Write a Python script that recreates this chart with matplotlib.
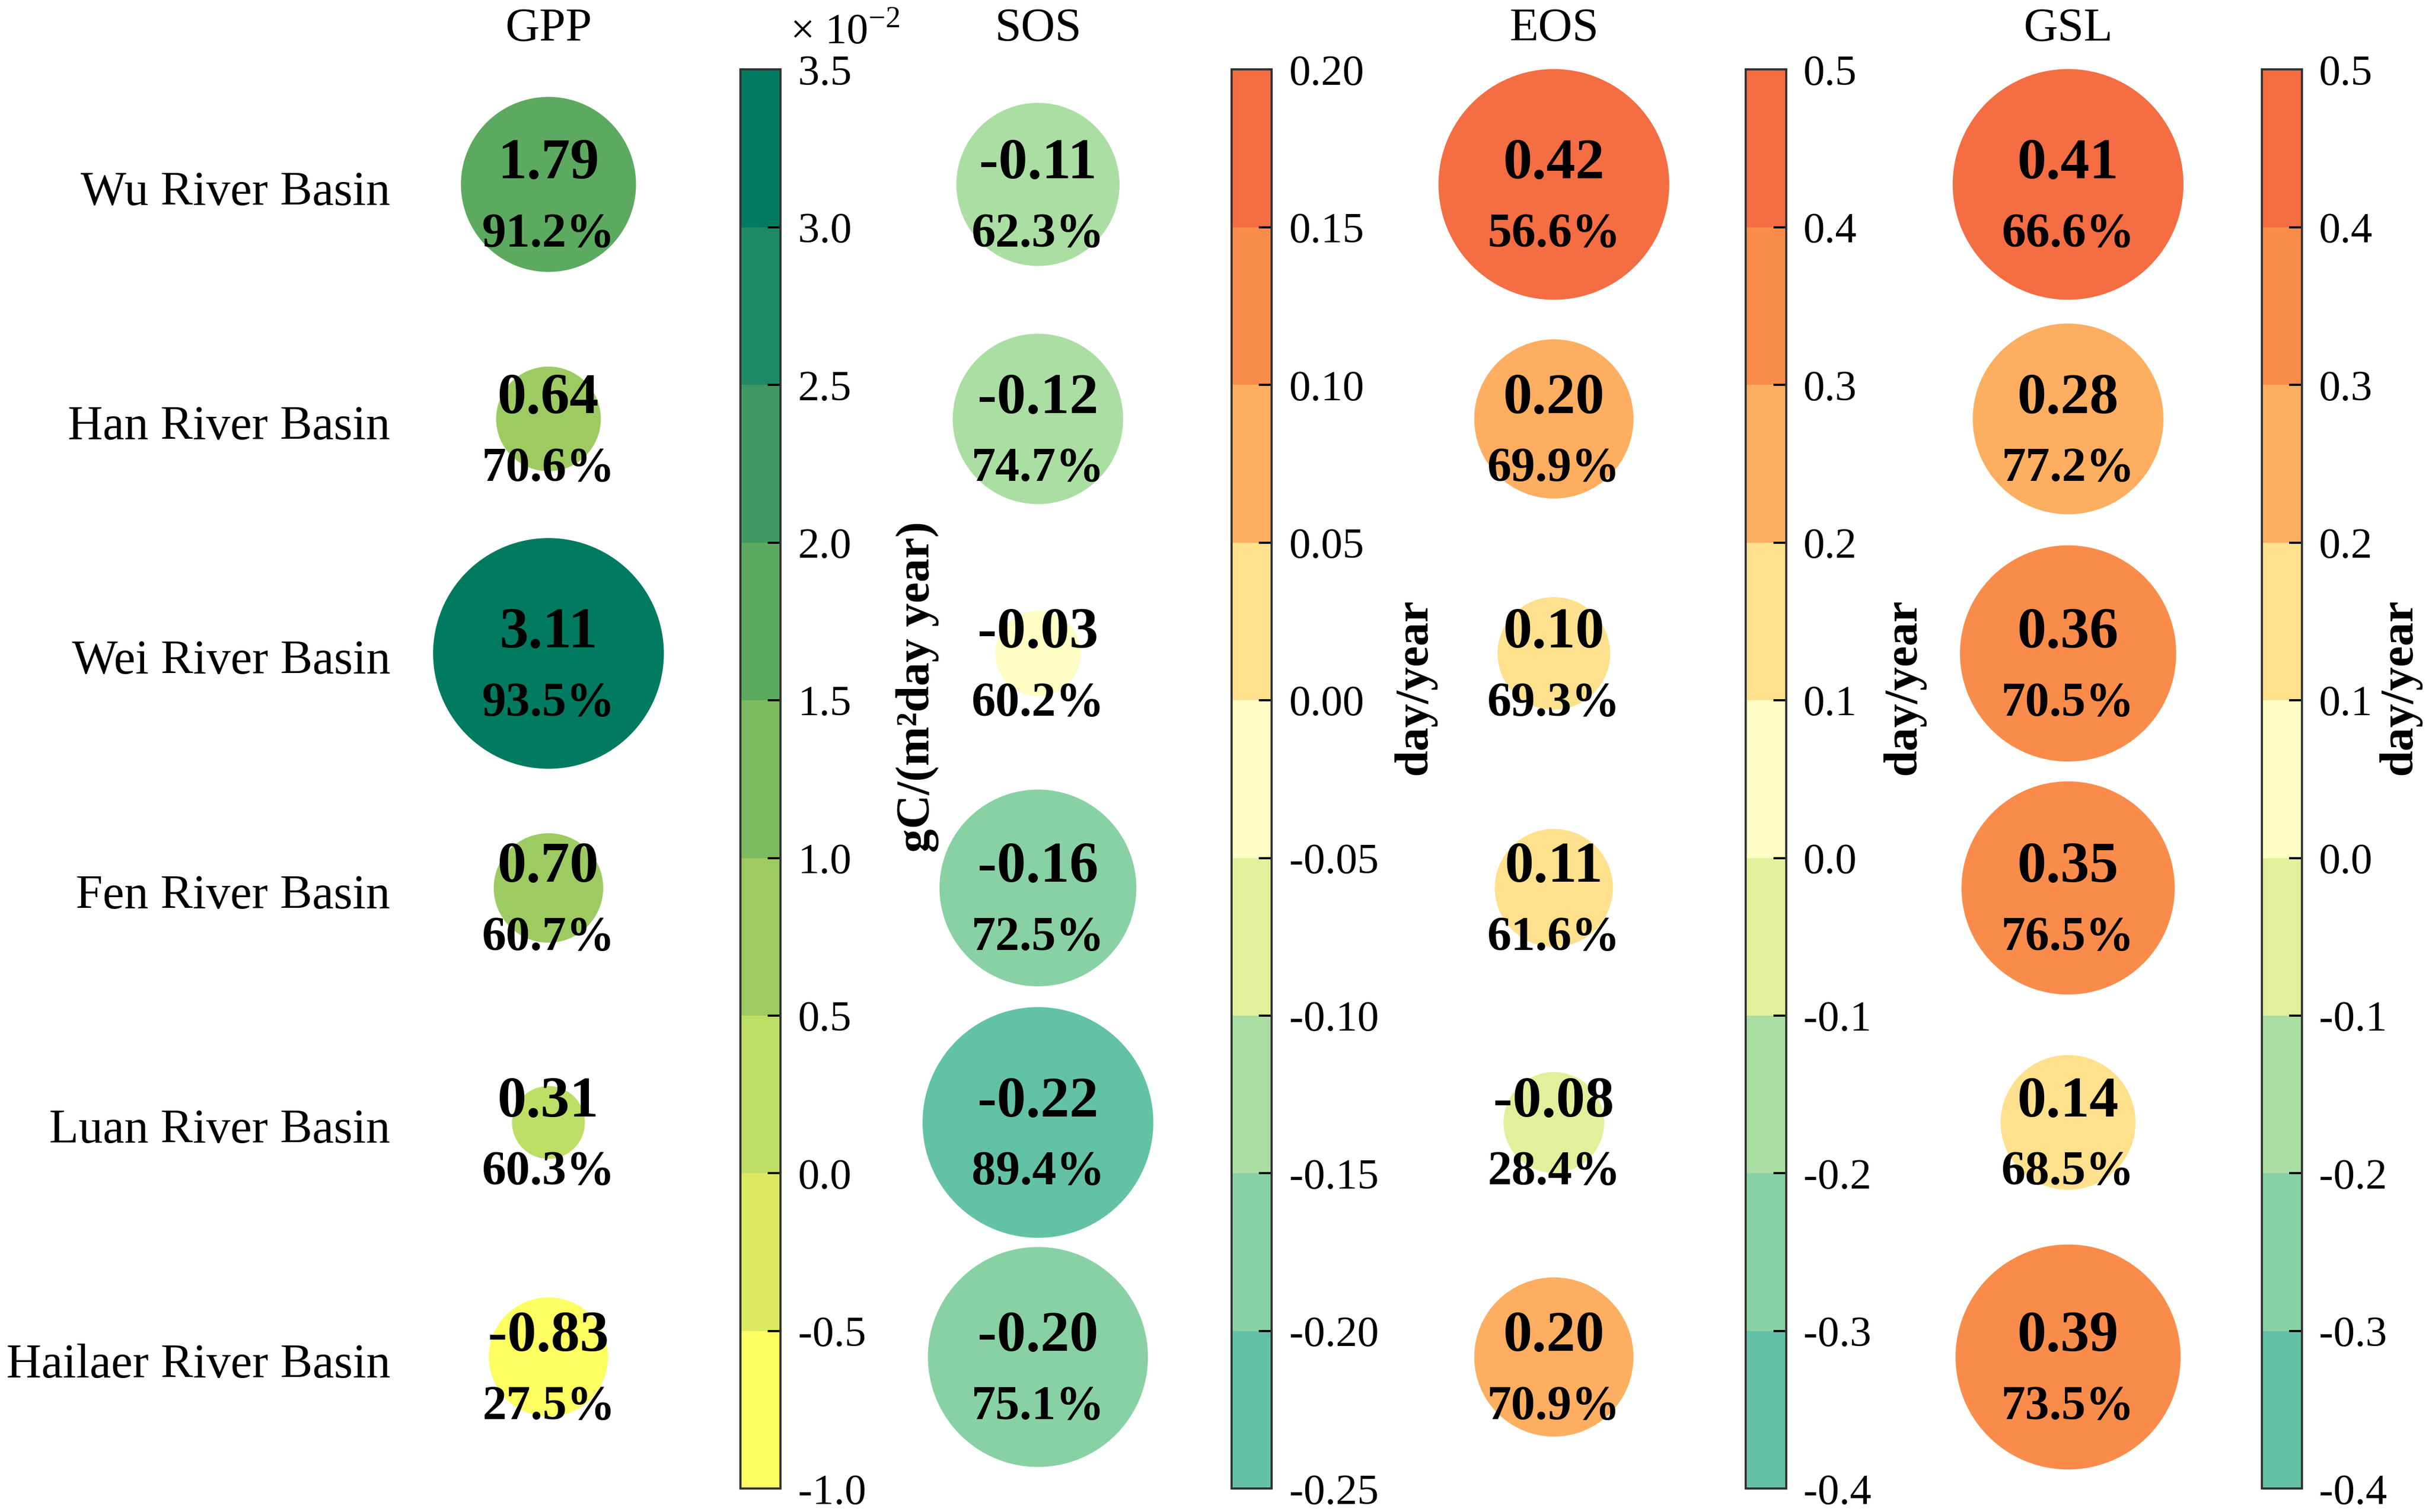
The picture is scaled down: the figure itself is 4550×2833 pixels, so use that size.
import numpy as np
import matplotlib
matplotlib.use("Agg")
import matplotlib.pyplot as plt
from matplotlib.colors import ListedColormap, BoundaryNorm
from matplotlib.cm import ScalarMappable

plt.rcParams["font.family"] = ["Liberation Serif", "DejaVu Serif"]
plt.rcParams["mathtext.fontset"] = "custom"
plt.rcParams["mathtext.rm"] = "Liberation Serif"
plt.rcParams["axes.unicode_minus"] = False

basins = ["Wu River Basin", "Han River Basin", "Wei River Basin",
          "Fen River Basin", "Luan River Basin", "Hailaer River Basin"]

gpp = [1.79, 0.64, 3.11, 0.70, 0.31, -0.83]
gpp_pct = [91.2, 70.6, 93.5, 60.7, 60.3, 27.5]
sos = [-0.11, -0.12, -0.03, -0.16, -0.22, -0.20]
sos_pct = [62.3, 74.7, 60.2, 72.5, 89.4, 75.1]
eos = [0.42, 0.20, 0.10, 0.11, -0.08, 0.20]
eos_pct = [56.6, 69.9, 69.3, 61.6, 28.4, 70.9]
gsl = [0.41, 0.28, 0.36, 0.35, 0.14, 0.39]
gsl_pct = [66.6, 77.2, 70.5, 76.5, 68.5, 73.5]

gpp_bounds = [-1.0, -0.5, 0.0, 0.5, 1.0, 1.5, 2.0, 2.5, 3.0, 3.5]
sos_bounds = [-0.25, -0.20, -0.15, -0.10, -0.05, 0.00, 0.05, 0.10, 0.15, 0.20]
eos_bounds = [-0.4, -0.3, -0.2, -0.1, 0.0, 0.1, 0.2, 0.3, 0.4, 0.5]
gsl_bounds = eos_bounds

green_colors = ["#fdfd62", "#dcea62", "#bddf66", "#9dcb62", "#7bba5f",
                "#5caa5f", "#3e9a62", "#1e8a64", "#007a60"]
div_colors = ["#63c2a5", "#88d1a4", "#abdea3", "#e2f09b", "#fefdc3",
              "#fee08d", "#fdae61", "#fa8c4b", "#f46d43"]

panels = [
    ("GPP", gpp, gpp_pct, gpp_bounds, green_colors, "%.1f", "gC/(m²day year)"),
    ("SOS", sos, sos_pct, sos_bounds, div_colors, "%.2f", "day/year"),
    ("EOS", eos, eos_pct, eos_bounds, div_colors, "%.1f", "day/year"),
    ("GSL", gsl, gsl_pct, gsl_bounds, div_colors, "%.1f", "day/year"),
]

# layout in fractions of the figure
col_x = [0.2258, 0.4273, 0.6397, 0.8514]
cbar_x = [0.3048, 0.5070, 0.7187, 0.9311]
label_x = [0.3776, 0.5823, 0.7838, 0.9879]
cbar_w = 0.0166
cbar_y0, cbar_h = 0.0154, 0.9385
max_s = 11520

fig = plt.figure(figsize=(15.69, 9.77), dpi=290)

rows = np.arange(len(basins))
for k, (name, vals, pcts, bounds, colors, fmt, unit) in enumerate(panels):
    cmap = ListedColormap(colors)
    norm = BoundaryNorm(bounds, cmap.N)
    vals = np.array(vals)

    ax = fig.add_axes([col_x[k] - 0.06, 0, 0.12, 1])
    ax.set_xlim(-1, 1)
    ax.set_ylim(5.661, -0.787)
    ax.axis("off")
    # circle area proportional to |value| within each column
    sizes = max_s * np.abs(vals) / np.abs(vals).max()
    ax.scatter(np.zeros(len(vals)), rows, s=sizes, c=vals, cmap=cmap, norm=norm,
               edgecolors="none", zorder=2)
    for i, (v, p) in enumerate(zip(vals, pcts)):
        ax.annotate(f"{v:.2f}", (0, i), xytext=(0, 2.9), textcoords="offset points",
                    ha="center", va="baseline", fontsize=27, fontweight="bold", zorder=3)
        ax.annotate(f"{p:.1f}%", (0, i), xytext=(0, -28.8), textcoords="offset points",
                    ha="center", va="baseline", fontsize=22.5, fontweight="bold", zorder=3)
        if k == 0:
            ax.annotate(basins[i], (0.1607, i), xytext=(0, -9.4),
                        textcoords="offset points",
                        xycoords=("figure fraction", "data"), ha="right",
                        va="baseline", fontsize=22.5)

    fig.text(col_x[k], 0.9733, name, ha="center", va="baseline", fontsize=22)

    cax = fig.add_axes([cbar_x[k], cbar_y0, cbar_w, cbar_h])
    cb = fig.colorbar(ScalarMappable(norm=norm, cmap=cmap), cax=cax, ticks=bounds,
                      format=fmt)
    cb.outline.set_linewidth(1.0)
    cb.outline.set_edgecolor("#333333")
    cax.tick_params(direction="in", length=6, width=1, pad=8, labelsize=20,
                    right=True, left=False)
    fig.text(label_x[k], 1 - 443 / 975, unit, rotation=90, ha="center", va="center",
             fontsize=22, fontweight="bold")

fig.text(0.3253, 0.9713, r"× 10$^{-2}$", ha="left", va="baseline", fontsize=20)

fig.savefig("out.png", dpi=290)
